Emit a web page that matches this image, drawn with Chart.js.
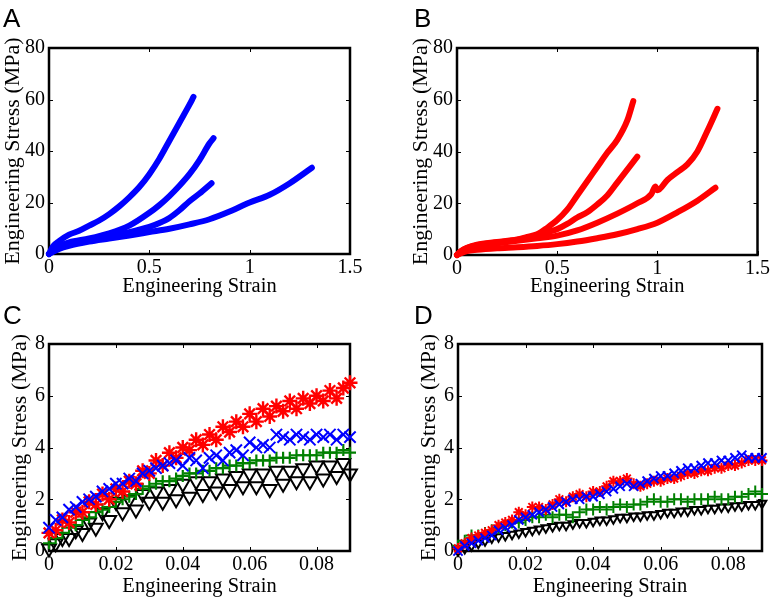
<!DOCTYPE html>
<html>
<head>
<meta charset="utf-8">
<script src="https://cdn.jsdelivr.net/npm/chart.js@4.4.1/dist/chart.umd.min.js"></script>
<style>
    body { margin: 0; background: #fff; width: 772px; height: 600px; position: relative; overflow: hidden; }
    .panel { position: absolute; width: 386px; height: 300px; }
    .letter { position: absolute; font-family: "Liberation Sans", Arial, sans-serif; font-size: 26px; line-height: 26px; color: #000; }
</style>
</head>
<body>
<div class="panel" style="left:0;top:0"><canvas id="chartA" width="386" height="300"></canvas></div>
<div class="panel" style="left:386px;top:0"><canvas id="chartB" width="386" height="300"></canvas></div>
<div class="panel" style="left:0;top:300px"><canvas id="chartC" width="386" height="300"></canvas></div>
<div class="panel" style="left:386px;top:300px"><canvas id="chartD" width="386" height="300"></canvas></div>
<div class="letter" style="left:3px;top:5px">A</div>
<div class="letter" style="left:414px;top:5px">B</div>
<div class="letter" style="left:3px;top:302px">C</div>
<div class="letter" style="left:414px;top:302px">D</div>
<script>
// --- Axis ticks ---
const xTicksAB = [0, 0.5, 1, 1.5];
const xLabelsAB = ['0', '0.5', '1', '1.5'];
const yTicksAB = [0, 20, 40, 60, 80];
const yLabelsAB = ['0', '20', '40', '60', '80'];
const xTicksCD = [0, 0.02, 0.04, 0.06, 0.08];
const xLabelsCD = ['0', '0.02', '0.04', '0.06', '0.08'];
const yTicksCD = [0, 2, 4, 6, 8];
const yLabelsCD = ['0', '2', '4', '6', '8'];

// --- Panel A (blue, full range) ---
const strainA1 = [0, 0.02, 0.05, 0.1, 0.15, 0.2, 0.25, 0.3, 0.35, 0.4, 0.45, 0.5, 0.55, 0.6, 0.65, 0.7, 0.72];
const stressA1 = [0, 3, 5, 7.5, 9, 11, 13, 15.5, 18.5, 22, 26, 31, 37, 44, 51, 58, 61];
const strainA2 = [0, 0.05, 0.1, 0.2, 0.3, 0.4, 0.5, 0.55, 0.6, 0.65, 0.7, 0.75, 0.8, 0.82];
const stressA2 = [0, 3, 4.5, 6, 8, 11, 16, 19, 22.5, 26.5, 31, 36.5, 43, 45];
const strainA3 = [0, 0.05, 0.1, 0.2, 0.3, 0.4, 0.5, 0.55, 0.6, 0.65, 0.7, 0.75, 0.81];
const stressA3 = [0, 2.5, 4, 5.5, 7, 8.5, 10.5, 12, 14, 17, 20.5, 23.5, 27.5];
const strainA4 = [0, 0.05, 0.1, 0.2, 0.3, 0.4, 0.5, 0.6, 0.7, 0.8, 0.9, 1.0, 1.1, 1.2, 1.31];
const stressA4 = [0, 2, 3.2, 4.8, 6, 7.2, 8.5, 9.8, 11.5, 13.5, 16.5, 20, 23, 27.5, 33.5];

// --- Panel B (red, full range) ---
const strainB1 = [0, 0.02, 0.05, 0.1, 0.2, 0.3, 0.35, 0.4, 0.45, 0.5, 0.55, 0.6, 0.65, 0.7, 0.75, 0.8, 0.85, 0.88];
const stressB1 = [0, 1.5, 2.8, 4, 5, 6, 7, 8, 10.5, 13.5, 17.5, 23, 28.5, 34, 39.5, 44.5, 52, 59.5];
const strainB2 = [0, 0.02, 0.05, 0.1, 0.2, 0.3, 0.35, 0.4, 0.45, 0.5, 0.55, 0.6, 0.65, 0.7, 0.75, 0.8, 0.85, 0.9];
const stressB2 = [0, 1.5, 2.7, 3.8, 4.8, 5.8, 6.6, 7.5, 8.8, 10, 12, 14.5, 16.5, 19.5, 23, 28, 33, 38];
const strainB3 = [0, 0.05, 0.1, 0.2, 0.3, 0.4, 0.5, 0.6, 0.7, 0.8, 0.9, 0.97, 0.99, 1.0, 1.05, 1.1, 1.15, 1.2, 1.25, 1.3];
const stressB3 = [0, 2.5, 3.5, 4.5, 5.5, 6.5, 7.5, 9.5, 12.5, 16, 20, 23.5, 26.5, 25, 29, 32, 35, 40, 48, 56.5];
const strainB4 = [0, 0.05, 0.1, 0.2, 0.3, 0.4, 0.5, 0.6, 0.7, 0.8, 0.9, 1.0, 1.1, 1.2, 1.29];
const stressB4 = [0, 1.5, 2, 2.6, 3, 3.5, 4.2, 5.2, 6.5, 8, 10, 12.5, 16.5, 21, 26];

// --- Panels C and D (small strain) ---
const strainSmall = [0, 0.002, 0.004, 0.006, 0.008, 0.010, 0.012, 0.014, 0.016, 0.018,
    0.020, 0.022, 0.024, 0.026, 0.028, 0.030, 0.032, 0.034, 0.036, 0.038,
    0.040, 0.042, 0.044, 0.046, 0.048, 0.050, 0.052, 0.054, 0.056, 0.058,
    0.060, 0.062, 0.064, 0.066, 0.068, 0.070, 0.072, 0.074, 0.076, 0.078,
    0.080, 0.082, 0.084, 0.086, 0.088, 0.090];

const stressCRed = [0.7, 0.8, 1.2, 1.1, 1.5, 1.5, 1.9, 1.8, 2.2, 2.0, 2.4, 2.3, 2.7, 2.6, 3.1, 3.0, 3.5, 3.3, 3.8, 3.6,
    4.0, 3.9, 4.3, 4.1, 4.5, 4.3, 4.8, 4.6, 5.0, 4.8, 5.3, 5.0, 5.5, 5.2, 5.6, 5.4, 5.8, 5.5, 5.9, 5.7,
    6.0, 5.8, 6.2, 5.9, 6.3, 6.5];
const stressCBlue = [0.9, 1.2, 1.3, 1.6, 1.7, 1.9, 2.0, 2.1, 2.3, 2.4, 2.6, 2.6, 2.8, 2.7, 3.0, 3.1, 3.2, 3.3, 3.4, 3.5,
    3.3, 3.6, 3.5, 3.2, 3.6, 3.7, 3.5, 3.8, 3.9, 3.7, 4.2, 4.0, 4.1, 4.0, 4.5, 4.4, 4.3, 4.5, 4.4, 4.3,
    4.5, 4.4, 4.5, 4.3, 4.5, 4.4];
const stressCGreen = [0.3, 0.5, 0.7, 0.9, 1.0, 1.2, 1.3, 1.5, 1.6, 1.7, 1.9, 2.0, 2.1, 2.2, 2.4, 2.5, 2.6, 2.7, 2.7, 2.8,
    2.9, 3.0, 3.0, 3.1, 3.1, 3.2, 3.2, 3.3, 3.3, 3.4, 3.4, 3.5, 3.5, 3.5, 3.6, 3.6, 3.6, 3.7, 3.7, 3.7,
    3.7, 3.8, 3.8, 3.8, 3.9, 3.8];
const stressCBlack = [0.1, 0.3, 0.5, 0.5, 0.8, 0.7, 1.1, 0.9, 1.5, 1.2, 1.9, 1.5, 2.0, 1.6, 2.2, 1.9, 2.3, 1.9, 2.4, 2.0,
    2.6, 2.1, 2.7, 2.2, 2.7, 2.3, 2.8, 2.4, 2.9, 2.5, 3.0, 2.5, 3.0, 2.4, 3.1, 2.6, 3.1, 2.7, 3.2, 2.7,
    3.3, 2.8, 3.3, 2.9, 3.4, 3.0];

const stressDRed = [0.1, 0.3, 0.5, 0.6, 0.7, 0.8, 1.0, 1.1, 1.2, 1.5, 1.4, 1.7, 1.7, 1.6, 1.8, 2.0, 1.9, 2.1, 2.2, 2.1,
    2.3, 2.3, 2.5, 2.7, 2.7, 2.8, 2.6, 2.5, 2.6, 2.7, 2.7, 2.8, 2.8, 2.9, 3.0, 3.0, 3.1, 3.1, 3.2, 3.2,
    3.3, 3.3, 3.4, 3.5, 3.5, 3.5];
const stressDBlue = [0.0, 0.2, 0.3, 0.4, 0.5, 0.6, 0.8, 0.9, 1.0, 1.2, 1.3, 1.4, 1.5, 1.6, 1.7, 1.8, 1.9, 2.0, 2.0, 2.1,
    2.1, 2.2, 2.3, 2.4, 2.5, 2.6, 2.5, 2.6, 2.7, 2.8, 2.9, 2.9, 3.0, 3.1, 3.2, 3.2, 3.3, 3.4, 3.4, 3.5,
    3.5, 3.6, 3.7, 3.6, 3.6, 3.6];
const stressDGreen = [0.2, 0.4, 0.6, 0.6, 0.7, 0.8, 0.9, 1.0, 1.1, 1.1, 1.2, 1.3, 1.3, 1.4, 1.3, 1.4, 1.4, 1.3, 1.5, 1.6,
    1.6, 1.7, 1.6, 1.7, 1.8, 1.7, 1.8, 1.8, 1.9, 2.0, 1.9, 1.9, 2.0, 2.0, 1.9, 2.0, 2.0, 2.0, 2.1, 2.0,
    2.0, 2.1, 2.1, 2.2, 2.3, 2.2];
const stressDBlack = [0.0, 0.1, 0.2, 0.3, 0.4, 0.5, 0.55, 0.6, 0.65, 0.7, 0.75, 0.8, 0.85, 0.9, 0.95, 1.0, 1.0, 1.05, 1.1, 1.1,
    1.15, 1.2, 1.2, 1.25, 1.3, 1.3, 1.35, 1.35, 1.4, 1.4, 1.45, 1.5, 1.5, 1.55, 1.55, 1.6, 1.6, 1.65, 1.65, 1.7,
    1.7, 1.75, 1.75, 1.8, 1.8, 1.85];

const BLUE = '#0000ff';
const RED = '#ff0000';
const GREEN = '#008000';
const BLACK = '#000000';
const SERIF = '"Liberation Serif", "Times New Roman", serif';

// Box, ticks and rotated y title (drawn here so the long title is not squeezed)
const framePlugin = {
    id: 'frame',
    beforeDatasetsDraw(chart) {
        const { ctx, chartArea: a, scales: { x, y } } = chart;
        ctx.save();
        ctx.strokeStyle = '#000';
        ctx.lineWidth = 1;
        x.ticks.forEach(t => {
            const px = Math.round(x.getPixelForValue(t.value)) + 0.5;
            ctx.beginPath();
            ctx.moveTo(px, a.bottom); ctx.lineTo(px, a.bottom - 4);
            ctx.moveTo(px, a.top); ctx.lineTo(px, a.top + 4);
            ctx.stroke();
        });
        y.ticks.forEach(t => {
            const py = Math.round(y.getPixelForValue(t.value)) + 0.5;
            ctx.beginPath();
            ctx.moveTo(a.left, py); ctx.lineTo(a.left + 4, py);
            ctx.moveTo(a.right, py); ctx.lineTo(a.right - 4, py);
            ctx.stroke();
        });
        ctx.lineWidth = 2.5;
        ctx.strokeRect(a.left, a.top, a.right - a.left, a.bottom - a.top);
        ctx.restore();
    },
    afterDraw(chart, args, opts) {
        const { ctx, chartArea: a } = chart;
        ctx.save();
        ctx.translate(opts.titleX, (a.top + a.bottom) / 2);
        ctx.rotate(-Math.PI / 2);
        ctx.font = '22px ' + SERIF;
        ctx.fillStyle = '#000';
        ctx.textAlign = 'center';
        ctx.textBaseline = 'middle';
        ctx.fillText('Engineering Stress (MPa)', 0, 0);
        ctx.restore();
    }
};

function curve(xs, ys, color) {
    return {
        data: xs.map((x, i) => ({ x: x, y: ys[i] })),
        showLine: true,
        borderColor: color,
        borderWidth: 6,
        pointRadius: 0,
        cubicInterpolationMode: 'monotone',
        borderCapStyle: 'round',
        borderJoinStyle: 'round',
        clip: false
    };
}

function markers(xs, ys, color, style, r, w, rot) {
    return {
        data: xs.map((x, i) => ({ x: x, y: ys[i] })),
        showLine: false,
        pointStyle: style,
        pointRadius: r,
        pointHoverRadius: r,
        borderColor: color,
        backgroundColor: 'rgba(0,0,0,0)',
        pointBorderWidth: w,
        pointRotation: rot || 0,
        clip: false
    };
}

function makePanel(id, g, datasets, xr, yr) {
    return new Chart(document.getElementById(id), {
        type: 'scatter',
        data: { datasets: datasets },
        options: {
            responsive: false,
            animation: false,
            devicePixelRatio: 1,
            events: [],
            layout: { padding: { left: 0, top: g.top, right: 386 - g.right, bottom: 0 } },
            plugins: {
                legend: { display: false },
                tooltip: { enabled: false },
                frame: { titleX: g.titleX }
            },
            scales: {
                x: {
                    type: 'linear', min: xr.min, max: xr.max,
                    grid: { display: false, drawTicks: false },
                    border: { display: false },
                    afterBuildTicks: s => { s.ticks = xr.ticks.map(v => ({ value: v })); },
                    afterFit: s => { s.height = 300 - g.bottom; },
                    ticks: {
                        padding: 2, color: '#000', maxRotation: 0, autoSkip: false,
                        font: { family: SERIF, size: 20 },
                        callback: (v, i) => xr.labels[i]
                    },
                    title: {
                        display: true, text: 'Engineering Strain', color: '#000',
                        font: { family: SERIF, size: 20.5 },
                        padding: { top: 0, bottom: 1 }
                    }
                },
                y: {
                    type: 'linear', min: yr.min, max: yr.max,
                    grid: { display: false, drawTicks: false },
                    border: { display: false },
                    afterBuildTicks: s => { s.ticks = yr.ticks.map(v => ({ value: v })); },
                    afterFit: s => { s.width = g.left; },
                    ticks: {
                        padding: 4, color: '#000', autoSkip: false,
                        font: { family: SERIF, size: 20 },
                        callback: (v, i) => yr.labels[i]
                    }
                }
            }
        },
        plugins: [framePlugin]
    });
}

const rangeXAB = { min: 0, max: 1.5, ticks: xTicksAB, labels: xLabelsAB };
const rangeYAB = { min: 0, max: 80, ticks: yTicksAB, labels: yLabelsAB };
const rangeXCD = { min: 0, max: 0.09, ticks: xTicksCD, labels: xLabelsCD };
const rangeYCD = { min: 0, max: 8, ticks: yTicksCD, labels: yLabelsCD };

makePanel('chartA', { left: 49, right: 350, top: 48, bottom: 254, titleX: 13 }, [
    curve(strainA1, stressA1, BLUE),
    curve(strainA2, stressA2, BLUE),
    curve(strainA3, stressA3, BLUE),
    curve(strainA4, stressA4, BLUE)
], rangeXAB, rangeYAB);

makePanel('chartB', { left: 71, right: 373, top: 48, bottom: 255, titleX: 35 }, [
    curve(strainB1, stressB1, RED),
    curve(strainB2, stressB2, RED),
    curve(strainB3, stressB3, RED),
    curve(strainB4, stressB4, RED)
], rangeXAB, rangeYAB);

makePanel('chartC', { left: 49, right: 350, top: 44, bottom: 251, titleX: 20 }, [
    markers(strainSmall, stressCBlue, BLUE, 'crossRot', 8, 2),
    markers(strainSmall, stressCRed, RED, 'star', 7.5, 2.4),
    markers(strainSmall, stressCGreen, GREEN, 'cross', 6, 2.2),
    markers(strainSmall, stressCBlack, BLACK, 'triangle', 8, 2, 180)
], rangeXCD, rangeYCD);

makePanel('chartD', { left: 72, right: 376, top: 44, bottom: 251, titleX: 43 }, [
    markers(strainSmall, stressDBlue, BLUE, 'crossRot', 6.5, 2),
    markers(strainSmall, stressDRed, RED, 'star', 5.5, 2),
    markers(strainSmall, stressDGreen, GREEN, 'cross', 6, 2),
    markers(strainSmall, stressDBlack, BLACK, 'triangle', 5, 2, 180)
], rangeXCD, rangeYCD);
</script>
</body>
</html>
